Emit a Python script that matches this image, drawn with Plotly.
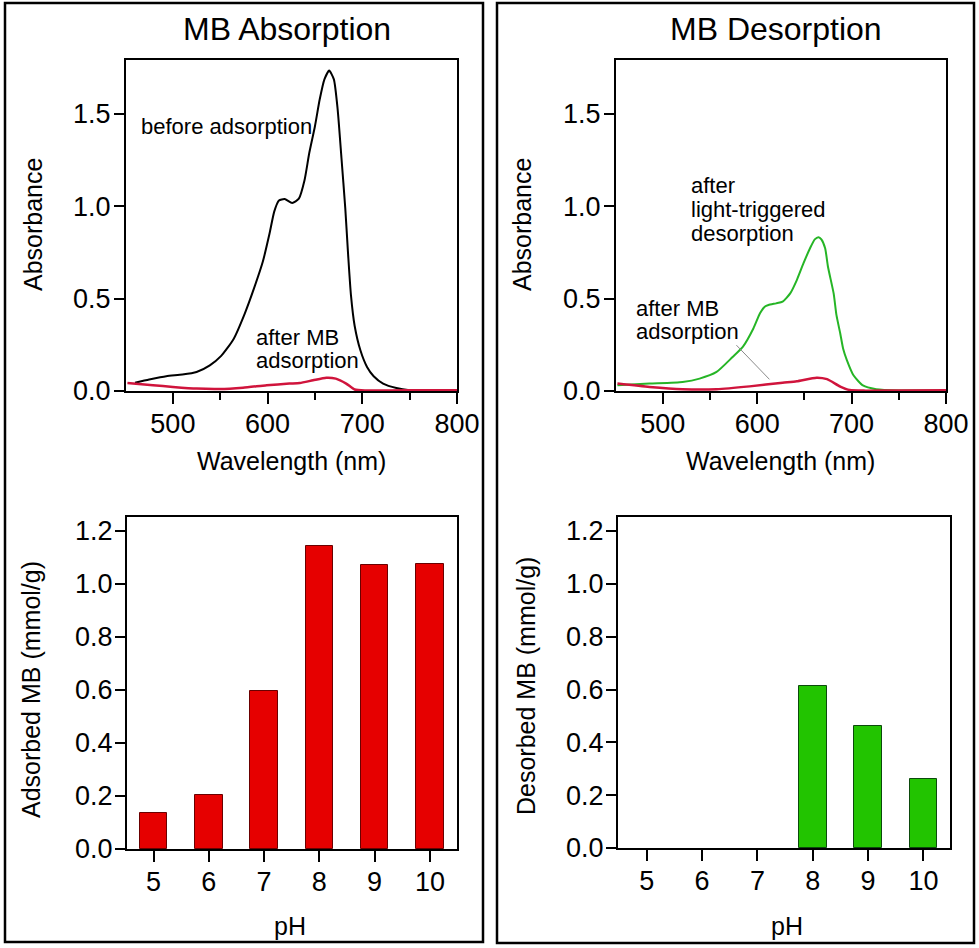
import plotly.graph_objects as go

# ---------------- data ----------------
# UV-vis spectra (wavelength in nm, absorbance)
wl_before = [460, 475, 493, 510, 525, 539, 551, 564, 576, 586, 595, 602, 607, 612, 618, 626,
             633, 639, 644, 650, 655, 660, 665, 670, 674, 678, 682, 685, 688, 692, 698, 705,
             712, 722, 736, 750, 770, 800]
abs_before = [0.045, 0.062, 0.080, 0.089, 0.103, 0.139, 0.19, 0.28, 0.42, 0.56, 0.70, 0.85,
              0.97, 1.03, 1.038, 1.017, 1.04, 1.14, 1.287, 1.432, 1.576, 1.685, 1.733, 1.685,
              1.522, 1.26, 0.99, 0.74, 0.52, 0.35, 0.22, 0.13, 0.08, 0.04, 0.016, 0.004, 0.0, 0.0]

wl_after_left = [452, 479, 500, 525, 549, 574, 599, 623, 634, 648, 662, 672, 683, 692, 704, 730, 760, 800]
abs_after_left = [0.043, 0.031, 0.022, 0.013, 0.011, 0.018, 0.031, 0.040, 0.043, 0.058, 0.072,
                  0.067, 0.040, 0.008, 0.003, 0.003, 0.004, 0.004]

wl_desorb = [452, 486, 521, 539, 557, 574, 585, 596, 603, 608, 612, 620, 627, 635, 642, 649, 656,
             661, 665, 668, 672, 675, 681, 684, 688, 691, 695, 702, 712, 726, 750, 800]
abs_desorb = [0.031, 0.040, 0.049, 0.067, 0.103, 0.184, 0.24, 0.338, 0.42, 0.456, 0.465, 0.474,
              0.483, 0.528, 0.60, 0.69, 0.772, 0.82, 0.832, 0.82, 0.772, 0.672, 0.528, 0.41,
              0.311, 0.23, 0.167, 0.085, 0.03, 0.01, 0.003, 0.003]

wl_after_right = [452, 486, 521, 557, 592, 627, 642, 663, 674, 688, 698, 715, 750, 800]
abs_after_right = [0.04, 0.022, 0.01, 0.01, 0.025, 0.045, 0.053, 0.072, 0.064, 0.024, 0.005,
                   0.002, 0.003, 0.004]

# pH dependence
ph = [5, 6, 7, 8, 9, 10]
ph_labels = ["5", "6", "7", "8", "9", "10"]
adsorbed_mb = [0.137, 0.204, 0.597, 1.143, 1.072, 1.075]
desorbed_mb = [None, None, None, 0.612, 0.46, 0.263]

# ---------------- layout helpers ----------------
W, H = 979, 948
FONT = "Liberation Sans, Arial, Helvetica, sans-serif"


def px(x):
    return x / W


def py(y):
    return 1 - y / H


fig = go.Figure()

RED_LINE = "#d0143c"
GREEN_LINE = "#26b526"
SM = 0.55

fig.add_trace(go.Scatter(x=wl_before, y=abs_before, xaxis="x", yaxis="y", mode="lines",
                         line=dict(color="black", width=2, shape="spline", smoothing=SM)))
fig.add_trace(go.Scatter(x=wl_after_left, y=abs_after_left, xaxis="x", yaxis="y", mode="lines",
                         line=dict(color=RED_LINE, width=2.5, shape="spline", smoothing=SM)))
fig.add_trace(go.Scatter(x=wl_desorb, y=abs_desorb, xaxis="x2", yaxis="y2", mode="lines",
                         line=dict(color=GREEN_LINE, width=2, shape="spline", smoothing=SM)))
fig.add_trace(go.Scatter(x=wl_after_right, y=abs_after_right, xaxis="x2", yaxis="y2", mode="lines",
                         line=dict(color=RED_LINE, width=2.5, shape="spline", smoothing=SM)))

fig.add_trace(go.Bar(x=ph, y=adsorbed_mb, xaxis="x3", yaxis="y3", width=0.5,
                     marker=dict(color="#e60000", line=dict(color="#6a0000", width=1))))
fig.add_trace(go.Bar(x=ph, y=desorbed_mb, xaxis="x4", yaxis="y4", width=0.5,
                     marker=dict(color="#22c400", line=dict(color="#0c4a0c", width=1))))

axis_common = dict(showline=True, linecolor="black", linewidth=2, mirror=True,
                   ticks="outside", tickwidth=2, tickcolor="black", ticklen=10,
                   showgrid=False, zeroline=False, automargin=False,
                   tickfont=dict(size=27, color="black", family=FONT))

spec_x = dict(axis_common, range=[450.5, 800], tickvals=[500, 600, 700, 800], ticklen=11,
              ticklabelstandoff=-3,
              minor=dict(dtick=50, tick0=0, ticks="outside", ticklen=7, tickwidth=2,
                         tickcolor="black", showgrid=False))
spec_y = dict(axis_common, range=[0, 1.79], tickvals=[0, 0.5, 1.0, 1.5], tickformat=".1f",
              ticklabelstandoff=-2)
bar_x = dict(axis_common, tickvals=ph, ticktext=ph_labels, ticklen=11, ticklabelstandoff=-3)
bar_y = dict(axis_common, range=[0, 1.253], tickvals=[0, 0.2, 0.4, 0.6, 0.8, 1.0, 1.2],
             tickformat=".1f", ticklabelstandoff=-3)

fig.update_layout(
    width=W, height=H, margin=dict(l=0, r=0, t=0, b=0, pad=0, autoexpand=False),
    paper_bgcolor="white", plot_bgcolor="white", showlegend=False, bargap=0,
    font=dict(family=FONT, color="black"),
    xaxis=dict(spec_x, domain=[px(126), px(457)], anchor="y"),
    yaxis=dict(spec_y, domain=[py(391), py(60)], anchor="x"),
    xaxis2=dict(spec_x, domain=[px(616), px(946)], anchor="y2"),
    yaxis2=dict(spec_y, domain=[py(391), py(60)], anchor="x2"),
    xaxis3=dict(bar_x, domain=[px(127), px(457)], anchor="y3", range=[4.52, 10.49]),
    yaxis3=dict(bar_y, domain=[py(849), py(517)], anchor="x3"),
    xaxis4=dict(bar_x, domain=[px(618), px(950)], anchor="y4", range=[4.48, 10.48]),
    yaxis4=dict(bar_y, domain=[py(848), py(517)], anchor="x4"),
)

# panel frames
fig.add_shape(type="rect", xref="paper", yref="paper", x0=px(5), x1=px(483), y0=py(942), y1=py(3),
              line=dict(color="black", width=2.5))
fig.add_shape(type="rect", xref="paper", yref="paper", x0=px(497), x1=px(974), y0=py(943), y1=py(3),
              line=dict(color="black", width=2.5))

# leader line for "after MB adsorption" in desorption panel
fig.add_shape(type="line", xref="x2", yref="y2", x0=578, y0=0.248, x1=613, y1=0.063,
              line=dict(color="#8a8a8a", width=1))


def text(x, y, s, size=22, xanchor="left", angle=0):
    fig.add_annotation(xref="paper", yref="paper", x=px(x), y=py(y), text=s, showarrow=False,
                       xanchor=xanchor, yanchor="middle", textangle=angle,
                       font=dict(size=size, color="black", family=FONT))


# panel titles
text(287, 29, "MB Absorption", size=32, xanchor="center")
text(776, 29, "MB Desorption", size=32, xanchor="center")

# axis titles
text(291, 461, "Wavelength (nm)", size=25, xanchor="center")
text(780, 461, "Wavelength (nm)", size=25, xanchor="center")
text(290, 926, "pH", size=25, xanchor="center")
text(787, 926, "pH", size=25, xanchor="center")
text(33, 225, "Absorbance", size=25, xanchor="center", angle=-90)
text(522, 225, "Absorbance", size=25, xanchor="center", angle=-90)
text(31, 690, "Adsorbed MB (mmol/g)", size=25, xanchor="center", angle=-90)
text(526, 686, "Desorbed MB (mmol/g)", size=25, xanchor="center", angle=-90)

# curve labels
text(139, 126, "before adsorption")
text(254, 337, "after MB")
text(254, 361, "adsorption")
text(689, 185, "after")
text(689, 209, "light-triggered")
text(689, 233, "desorption")
text(634, 308, "after MB")
text(634, 332, "adsorption")

post = ("document.body.style.margin='0';"
        "document.documentElement.style.overflow='hidden';"
        "document.body.style.overflow='hidden';")

fig.write_html("out.html", config={"displayModeBar": False}, post_script=post)
